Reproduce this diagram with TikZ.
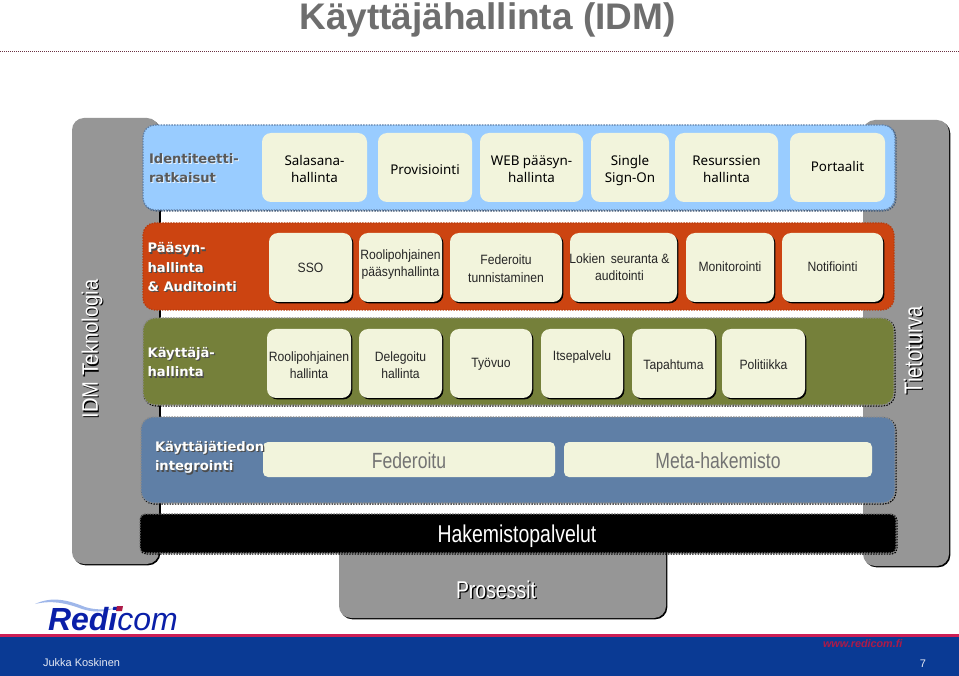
\documentclass[tikz,border=0pt]{standalone}
\usepackage{fontspec}
\setmainfont{Liberation Sans}
\newfontfamily\nar[FakeStretch=0.9]{Liberation Sans}
\newfontfamily\narr[FakeStretch=0.8]{Liberation Sans}
\newfontfamily\hum{Noto Sans}
\newfontfamily\hed{DejaVu Sans}
\usetikzlibrary{shadows}
\definecolor{cellfill}{HTML}{F2F4DC}
\definecolor{grayband}{HTML}{969696}
\definecolor{skyband}{HTML}{99CCFF}
\definecolor{rustband}{HTML}{CC4411}
\definecolor{oliveband}{HTML}{75803A}
\definecolor{steelband}{HTML}{5F7FA6}
\definecolor{footblue}{HTML}{0A3A94}
\definecolor{footred}{HTML}{CC1F55}
\definecolor{logoblue}{HTML}{0A1FA8}
\tikzset{
  x=1pt,y=-1pt,
  every node/.style={inner sep=0pt,outer sep=0pt,align=center},
  pillar/.style={fill=grayband,rounded corners=12pt,drop shadow={shadow xshift=1.3pt,shadow yshift=-1.3pt,fill=black,opacity=1}},
  band/.style={rounded corners=12pt,line width=1.3pt,dash pattern=on 1.5pt off 1.2pt},
  edgeband/.style={band,preaction={draw=#1,line width=1.3pt,dash pattern=on 1.5pt off 1.2pt,transform canvas={xshift=0.9pt,yshift=-0.9pt}}},
  cellbox/.style={fill=cellfill,rounded corners=9pt,font=\nar\fontsize{13.5}{17.5}\selectfont,text=black!85},
  plaincell/.style={cellbox,font=\hum\fontsize{13.4}{17.5}\selectfont,text=black},
  shadecell/.style={cellbox,drop shadow={shadow xshift=1.4pt,shadow yshift=-1.4pt,fill=black,opacity=1}},
  widecell/.style={cellbox,rounded corners=5pt,font=\narr\fontsize{22}{24}\selectfont,text=black!55},
  grouplabel/.style={anchor=west,align=left,font=\hed\bfseries\fontsize{13.1}{19.3}\selectfont},
  biglabel/.style={font=\narr\fontsize{25}{28}\selectfont},
  midlabel/.style={font=\narr\fontsize{24.3}{28}\selectfont},
  sidelabel/.style={font=\nar\fontsize{22.4}{26}\selectfont},
}
\newcommand{\cell}[7]{% style,name,x1,y1,x2,y2,text
  \pgfmathsetmacro{\cw}{#5-#3}\pgfmathsetmacro{\ch}{#6-#4}
  \pgfmathsetmacro{\cx}{(#3+#5)/2}\pgfmathsetmacro{\cy}{(#4+#6)/2}
  \node[#1,minimum width=\cw pt,minimum height=\ch pt] (#2) at (\cx,\cy) {#7};}
\newcommand{\up}[2]{\raisebox{#1}[0pt][0pt]{\begin{tabular}{@{}c@{}}#2\end{tabular}}}
\begin{document}
\begin{tikzpicture}
\useasboundingbox (0,0) rectangle (959,676);
\fill[white] (0,0) rectangle (959,676);
% title
\node[anchor=base,font=\bfseries\fontsize{37}{40}\selectfont,text=black!57] (title) at (487.5,29.5) {Käyttäjähallinta (IDM)};
\coordinate (ruleL) at (0,52); \coordinate (ruleR) at (959,52);
\draw[footred!40!black!85,line width=1pt,dash pattern=on 1pt off 1pt] (ruleL) -- (ruleR);
% pillars
\cell{pillar}{idmcol}{72}{118}{159}{564}{}
\cell{pillar}{seccol}{863}{120}{949}{566}{}
\cell{pillar}{procbox}{339}{513}{666}{618}{}
% white centre with black left edge
\fill[white] (160,205) rectangle (863,515);
\draw[black,line width=1.3pt] (160,205) -- (160,515);
% bands
\cell{edgeband=steelband!70!black,fill=skyband,draw=steelband}{bandA}{143}{125}{895}{210}{}
\cell{band,fill=rustband,draw=rustband!90!black}{bandB}{143}{223}{894}{310}{}
\cell{edgeband=black,fill=oliveband,draw=black!45}{bandC}{143}{318}{894}{405}{}
\cell{edgeband=black,fill=steelband,draw=black!45}{bandD}{141}{417}{895}{503}{}
\cell{edgeband=black,fill=black,draw=black!55,rounded corners=5pt}{bandE}{140}{514}{896}{553}{}
% row 1
\cell{plaincell}{a1}{262}{133}{367}{202}{\up{-6.4pt}{Salasana-\\hallinta}}
\cell{plaincell}{a2}{378}{133}{472}{202}{\up{-6.9pt}{Provisiointi}}
\cell{plaincell}{a3}{480}{133}{583}{202}{\up{-6.4pt}{WEB pääsyn-\\hallinta}}
\cell{plaincell}{a4}{591}{133}{669}{202}{\up{-6.4pt}{Single\\Sign-On}}
\cell{plaincell}{a5}{675}{133}{778}{202}{\up{-6.4pt}{Resurssien\\hallinta}}
\cell{plaincell}{a6}{790}{133}{885}{202}{\up{-3.9pt}{Portaalit}}
% row 2
\cell{shadecell}{b1}{269}{233}{352}{302}{\up{-4.9pt}{SSO}}
\cell{shadecell}{b2}{359}{233}{442}{302}{\up{-0.4pt}{Roolipohjainen\\pääsynhallinta}}
\cell{shadecell}{b3}{450}{233}{562}{302}{\up{-6pt}{Federoitu\\tunnistaminen}}
\cell{shadecell}{b4}{570}{233}{677}{302}{\makebox[0pt]{\up{-4.4pt}{Lokien\, seuranta \&\\auditointi}\kern8pt}}
\cell{shadecell}{b5}{686}{233}{774}{302}{\up{-3.9pt}{Monitorointi}}
\cell{shadecell}{b6}{782}{233}{883}{302}{\up{-3.9pt}{Notifiointi}}
% row 3
\cell{shadecell}{c1}{267}{329}{351}{398}{\up{-6.4pt}{Roolipohjainen\\hallinta}}
\cell{shadecell}{c2}{359}{329}{442}{398}{\up{-6.4pt}{Delegoitu\\hallinta}}
\cell{shadecell}{c3}{450}{329}{532}{398}{\up{-3.9pt}{Työvuo}}
\cell{shadecell}{c4}{541}{329}{623}{398}{\up{3.1pt}{Itsepalvelu}}
\cell{shadecell}{c5}{632}{329}{715}{398}{\up{-5.9pt}{Tapahtuma}}
\cell{shadecell}{c6}{722}{329}{805}{398}{\up{-5.9pt}{Politiikka}}
% row 4
\cell{widecell}{d1}{263}{442}{555}{477}{\up{-9pt}{Federoitu}}
\cell{widecell}{d2}{564}{442}{872}{477}{\up{-9pt}{Meta-hakemisto}}
% band text
\node[midlabel,text=white] (dir) at (517,536.5) {Hakemistopalvelut};
\node[midlabel,text=black] (procS) at (497.4,590.8) {Prosessit};
\node[midlabel,text=white] (proc) at (496,589.5) {Prosessit};
% vertical labels
\node[rotate=90,sidelabel,text=black] (idmS) at (93.2,350.2) {IDM Teknologia};
\node[rotate=90,sidelabel,text=white] (idm) at (92,349) {IDM Teknologia};
\node[rotate=90,biglabel,text=black] (secS) at (914.2,351.2) {Tietoturva};
\node[rotate=90,biglabel,text=white] (sec) at (913,350) {Tietoturva};
% group labels
\node[grouplabel,text=white!75!skyband] (gaS) at (150,168.8) {Identiteetti-\\ratkaisut};
\node[grouplabel,text=black!65] (ga) at (149,167.8) {Identiteetti-\\ratkaisut};
\node[grouplabel,text=black!70] (gbS) at (148.8,268.5) {Pääsyn-\\hallinta\\\& Auditointi};
\node[grouplabel,text=white!92!cellfill] (gb) at (147.6,267.3) {Pääsyn-\\hallinta\\\& Auditointi};
\node[grouplabel,text=black!70] (gcS) at (148.8,363.5) {Käyttäjä-\\hallinta};
\node[grouplabel,text=white!92!cellfill] (gc) at (147.6,362.3) {Käyttäjä-\\hallinta};
\node[grouplabel,text=black!70] (gdS) at (156.2,458.7) {Käyttäjätiedon\\integrointi};
\node[grouplabel,text=white!92!cellfill] (gd) at (155,457.5) {Käyttäjätiedon\\integrointi};
% footer
\fill[footblue] (0,637) rectangle (959,676);
\fill[footred] (0,634) rectangle (959,637);
\node[font=\fontsize{11}{13}\selectfont,text=white!90!footblue,anchor=west] (author) at (43,663) {Jukka Koskinen};
\node[font=\fontsize{11}{13}\selectfont,text=white!90!footblue] (page) at (923,664) {7};
\node[font=\bfseries\itshape\fontsize{10.8}{13}\selectfont,text=footred!85!black,anchor=west] (web) at (823,643.3) {www.redicom.fi};
% logo
\fill[skyband!60!logoblue!60!white] (35,604) .. controls (52,596) and (68,600) .. (85,607) .. controls (95,610) and (105,610) .. (115,608) .. controls (103,613) and (92,612) .. (82,609) .. controls (66,603) and (52,600) .. (35,604) -- cycle;
\node[anchor=base west,text=logoblue,font=\itshape\fontsize{32}{33}\selectfont] (logo) at (48,630.5) {\textbf{Redi}com};
\fill[footred!85!black] (117,606) -- (123,606) -- (122,611) -- (116,611) -- cycle;
\end{tikzpicture}
\end{document}
